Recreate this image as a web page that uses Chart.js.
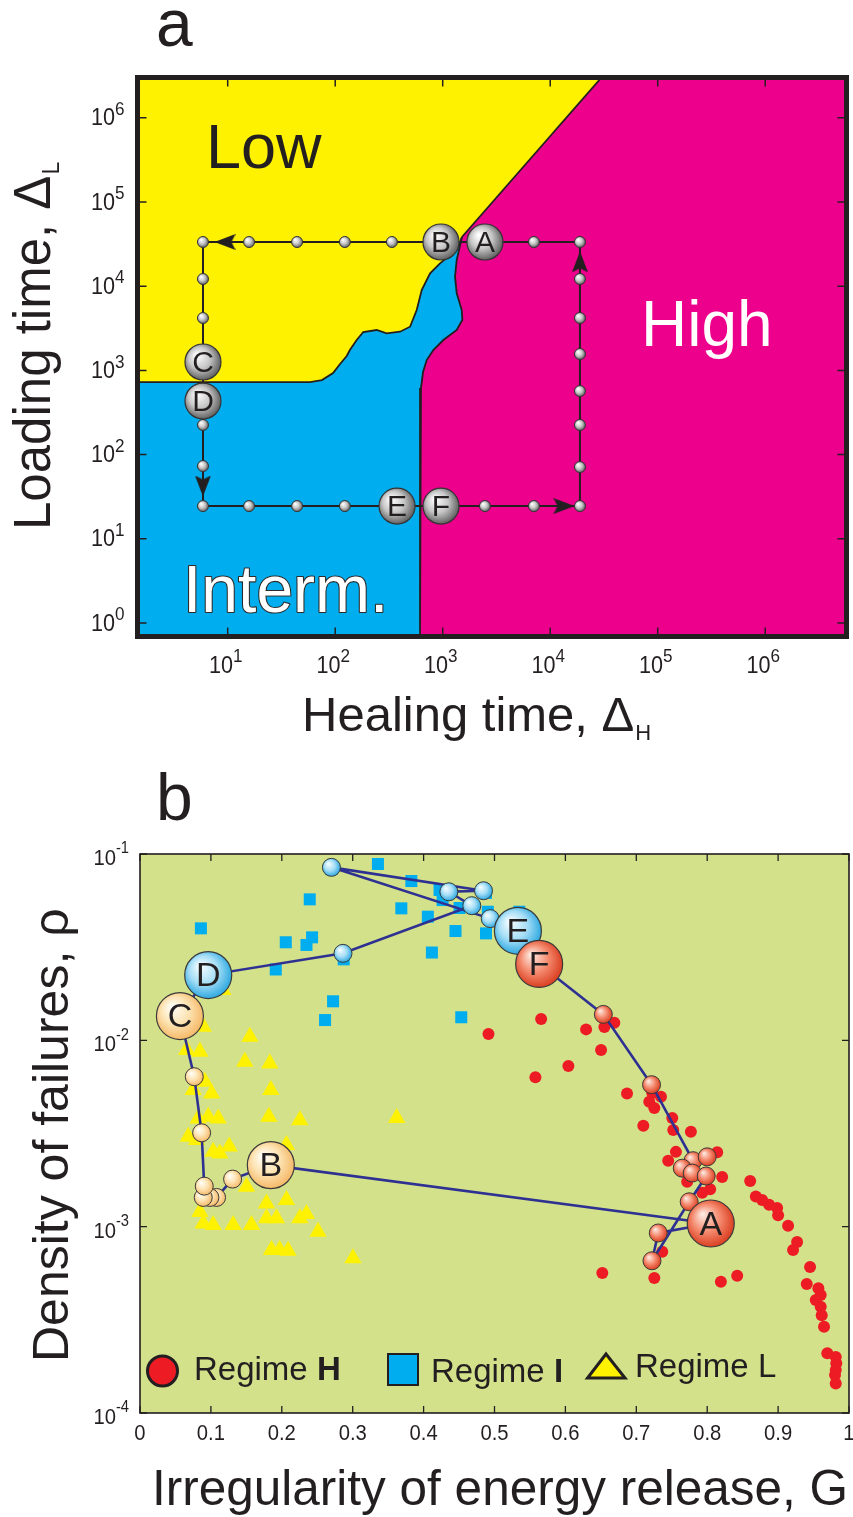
<!DOCTYPE html>
<html><head><meta charset="utf-8">
<script src="https://cdn.jsdelivr.net/npm/chart.js@4/dist/chart.umd.min.js"></script>
<style>
html,body{margin:0;padding:0;background:#fff;}
#wrap{position:relative;width:853px;height:1517px;overflow:hidden;background:#fff}
canvas{position:absolute;left:0}
#ca{top:0}
#cb{top:760px}
</style></head><body>
<div id="wrap"><canvas id="ca" width="853" height="760"></canvas><canvas id="cb" width="853" height="757"></canvas></div>
<script>
// ================= DATA: panel a =================
const healingTickExp = [1, 2, 3, 4, 5, 6];
const loadingTickExp = [0, 1, 2, 3, 4, 5, 6];
const healingRange = [1.449, 5.70e6];
const loadingRange = [0.692, 3.01e6];

// boundary Low / Interm. (healing, loading)
const lowIntH = [1.449, 58.3, 75.3, 95.5, 111, 128, 137, 158.5, 182.5, 243, 301, 401, 497, 573, 638, 763, 944, 1350, 1510];
const lowIntL = [728, 728, 769, 931, 1191, 1483, 1746, 2296, 2858, 3020, 2760, 2884, 3304, 5212, 9016, 14230, 18710, 26900, 38400];
// boundary Low / High
const lowHighH = [1510, 30000];
const lowHighL = [38400, 3.01e6];
// boundary Interm. / High
const intHighH = [1510, 1350, 1301, 1350, 1503, 1522, 1350, 1014, 818, 710, 656, 628, 615, 615];
const intHighL = [38400, 20470, 12970, 8222, 5212, 3970, 3020, 2296, 1746, 1329, 957, 618, 388, 0.692];

// loading/healing protocol path (closed cycle)
const pathH = [18900, 7060, 2470, 964, 337, 123, 44.2, 15.8, 5.89, 5.89, 5.89, 5.89, 5.89, 5.89, 5.89, 5.89,
               15.8, 44.2, 123, 376, 964, 2470, 7060, 18900, 18900, 18900, 18900, 18900, 18900, 18900];
const pathL = [33500, 33500, 33500, 33500, 33500, 33500, 33500, 33500, 33500, 12180, 4190, 1259, 433, 225, 73.2, 24.5,
               24.5, 24.5, 24.5, 24.5, 24.5, 24.5, 24.5, 24.5, 71.2, 225, 569, 1566, 4190, 12180];
const pathLabel = ['', '', 'A', 'B', '', '', '', '', '', '', '', 'C', 'D', '', '', '',
                   '', '', '', 'E', 'F', '', '', '', '', '', '', '', '', ''];
const arrowH = [9.44, 5.89, 13430, 18900];
const arrowL = [33500, 42.4, 24.5, 19500];

// ================= DATA: panel b =================
const gTicks = [0, 0.1, 0.2, 0.3, 0.4, 0.5, 0.6, 0.7, 0.8, 0.9, 1];
const gTickLabels = ['0', '0.1', '0.2', '0.3', '0.4', '0.5', '0.6', '0.7', '0.8', '0.9', '1'];
const rhoTickExp = [-1, -2, -3, -4];

const regimeH_G = [0.4915,0.5658,0.5577,0.6042,0.6292,0.655,0.669,0.6503,0.6869,0.7225,0.7348,0.7183,0.7254,0.7507,0.7099,0.7521,0.777,0.7559,0.745,0.8141,0.7718,0.8042,0.8211,0.793,0.8606,0.8686,0.8775,0.8873,0.8986,0.9,0.9141,0.9268,0.9211,0.7366,0.9451,0.6521,0.7254,0.8193,0.8423,0.9404,0.9568,0.9601,0.9531,0.9601,0.9615,0.9648,0.9694,0.9813,0.9821,0.9813,0.9803,0.9813];
const regimeH_rho = [1.08e-2,1.30e-2,6.33e-3,7.28e-3,1.145e-2,1.18e-2,1.243e-2,8.87e-3,5.19e-3,5.21e-3,4.98e-3,4.68e-3,4.33e-3,3.83e-3,3.48e-3,3.30e-3,3.23e-3,2.52e-3,2.26e-3,2.51e-3,1.74e-3,1.59e-3,1.85e-3,1.52e-3,1.76e-3,1.45e-3,1.39e-3,1.31e-3,1.26e-3,1.15e-3,1.01e-3,8.27e-4,7.49e-4,7.33e-4,6.07e-4,5.64e-4,5.30e-4,5.06e-4,5.45e-4,4.92e-4,4.67e-4,4.30e-4,4.04e-4,3.72e-4,3.35e-4,2.90e-4,2.09e-4,2.00e-4,1.85e-4,1.70e-4,1.60e-4,1.44e-4];

const regimeI_G = [0.3356,0.3827,0.4225,0.4268,0.2394,0.3686,0.406,0.0859,0.445,0.488,0.4906,0.535,0.2056,0.2427,0.2348,0.4117,0.1915,0.2873,0.2723,0.261,0.4531,0.488,0.4507,0.27];
const regimeI_rho = [8.84e-2,7.16e-2,6.41e-2,5.66e-2,5.71e-2,5.11e-2,4.61e-2,3.99e-2,3.86e-2,3.75e-2,4.9e-2,4.9e-2,3.36e-2,3.57e-2,3.25e-2,2.96e-2,2.40e-2,2.72e-2,1.62e-2,1.285e-2,1.33e-2,6.18e-2,5.13e-2,8.3e-2];

const regimeL_G = [0.0892,0.155,0.0658,0.0845,0.1479,0.1831,0.0751,0.101,0.0915,0.1845,0.1817,0.2254,0.0821,0.0962,0.1103,0.068,0.0799,0.1032,0.1127,0.1258,0.2066,0.1503,0.1785,0.2066,0.1925,0.1785,0.2254,0.2348,0.2511,0.0845,0.0892,0.1032,0.1314,0.1573,0.1855,0.197,0.2089,0.3004,0.362,0.117];
const regimeL_rho = [1.183e-2,1.045e-2,8.87e-3,8.69e-3,7.67e-3,7.52e-3,5.41e-3,5.19e-3,6.0e-3,5.41e-3,3.89e-3,3.73e-3,3.81e-3,3.89e-3,3.81e-3,3.04e-3,2.92e-3,2.52e-3,2.47e-3,2.69e-3,2.74e-3,1.64e-3,1.33e-3,1.39e-3,1.11e-3,1.11e-3,1.11e-3,1.17e-3,9.4e-4,1.20e-3,1.04e-3,1.02e-3,1.02e-3,1.02e-3,7.49e-4,7.5e-4,7.43e-4,6.76e-4,3.83e-3,1.86e-2];

const trajG = [0.805,0.1845,0.1306,0.108,0.0986,0.0892,0.0906,0.0869,0.0765,0.0563,0.0962,0.2863,0.468,0.4356,0.4845,0.270,0.494,0.533,0.563,0.6535,0.7215,0.780,0.800,0.7648,0.7789,0.7986,0.7746,0.7221,0.731];
const trajRho = [1.04e-3,2.14e-3,1.80e-3,1.435e-3,1.435e-3,1.435e-3,1.65e-3,3.19e-3,6.38e-3,1.35e-2,2.24e-2,2.93e-2,5.28e-2,6.27e-2,6.35e-2,8.48e-2,4.50e-2,3.87e-2,2.57e-2,1.378e-2,5.78e-3,2.26e-3,2.37e-3,2.06e-3,1.94e-3,1.87e-3,1.36e-3,6.56e-4,9.25e-4];
const trajLabel = ['A','B','','','','','','','','C','D','','','','','','','E','F','','','','','','','','','',''];
const trajRegime = ['H','L','L','L','L','L','L','L','L','L','I','I','I','I','I','I','I','I','H','H','H','H','H','H','H','H','H','H','H'];

// ================= helpers =================
const FONT = '"Liberation Sans", Arial, Helvetica, sans-serif';
const INK = '#231f20';
const zip = (xs, ys) => xs.map((x, i) => ({x, y: ys[i]}));

function txt(ctx, s, x, y, size, o = {}) {
  ctx.save();
  ctx.font = (o.bold ? 'bold ' : '') + size + 'px ' + FONT;
  ctx.fillStyle = o.color || INK;
  ctx.textAlign = o.align || 'left';
  ctx.textBaseline = o.baseline || 'alphabetic';
  ctx.translate(x, y);
  if (o.rot) ctx.rotate(o.rot);
  if (o.sx) ctx.scale(o.sx, 1);
  if (o.stroke) { ctx.lineWidth = o.strokeWidth || 2; ctx.strokeStyle = o.stroke; ctx.lineJoin = 'round'; ctx.strokeText(s, 0, 0); }
  ctx.fillText(s, 0, 0);
  const w = ctx.measureText(s).width * (o.sx || 1);
  ctx.restore();
  return w;
}
function measure(ctx, s, size, sx, bold) {
  ctx.save(); ctx.font = (bold ? 'bold ' : '') + size + 'px ' + FONT;
  const w = ctx.measureText(s).width * (sx || 1); ctx.restore(); return w;
}
function powLabel(ctx, exp, x, y, f10, fE, align, sx, dy) {
  const es = String(exp);
  const w10 = measure(ctx, '10', f10, sx), wE = measure(ctx, es, fE, sx);
  const x0 = align === 'right' ? x - w10 - wE : x - (w10 + wE) / 2;
  txt(ctx, '10', x0, y, f10, {baseline: 'middle', sx});
  txt(ctx, es, x0 + w10, y - dy, fE, {baseline: 'middle', sx});
}

const GRAD = {
  H: ['#fde7de', '#f4896d', '#dc4326'],
  I: ['#f4fcff', '#a6def6', '#36ace2'],
  L: ['#fffef7', '#fde3b2', '#f5bb6d'],
  G: ['#ffffff', '#c6c6c6', '#666666']
};
function sphereFill(keyOf, r) {
  return (c) => {
    const chart = c.chart, cols = GRAD[keyOf(c)];
    if (c.type !== 'data' || !chart.chartArea || !c.parsed) return cols[1];
    const px = chart.scales.x.getPixelForValue(c.parsed.x);
    const py = chart.scales.y.getPixelForValue(c.parsed.y);
    const g = chart.ctx.createRadialGradient(px - r * 0.35, py - r * 0.4, r * 0.05, px - r * 0.08, py - r * 0.08, r * 1.05);
    g.addColorStop(0, cols[0]); g.addColorStop(0.55, cols[1]); g.addColorStop(1, cols[2]);
    return g;
  };
}

const arrowImg = (() => {
  const c = document.createElement('canvas'); c.width = 16; c.height = 21;
  const g = c.getContext('2d'); g.fillStyle = INK;
  g.beginPath(); g.moveTo(8, 0); g.lineTo(16, 21); g.lineTo(8, 17); g.lineTo(0, 21); g.closePath(); g.fill();
  return c;
})();

const baseOpts = {
  responsive: false, maintainAspectRatio: false, animation: false, events: [], devicePixelRatio: 1,
  plugins: {legend: {display: false}, tooltip: {enabled: false}}
};

// ================= PANEL A =================
const yellowPoly = [{x: healingRange[0], y: loadingRange[1]}].concat(zip(lowIntH, lowIntL), [{x: lowHighH[1], y: lowHighL[1]}]);
const magentaPoly = [{x: lowHighH[1], y: lowHighL[1]}, {x: healingRange[1], y: loadingRange[1]}, {x: healingRange[1], y: loadingRange[0]}]
  .concat(zip(intHighH, intHighL).reverse());
const pathPts = zip(pathH, pathL).map((p, i) => ({...p, label: pathLabel[i]}));
const smallA = pathPts.filter(p => !p.label);
const bigA = pathPts.filter(p => p.label);
const loopA = pathPts.concat([pathPts[0]]);

const lineDS = (data, color, width, order) => ({type: 'line', data, borderColor: color, borderWidth: width, pointRadius: 0, fill: false, tension: 0, order});

const panelAPlugin = {
  id: 'panelA',
  beforeDatasetsDraw(chart) {
    const {ctx, chartArea: a} = chart;
    ctx.save(); ctx.fillStyle = '#00aeef'; ctx.fillRect(a.left, a.top, a.right - a.left, a.bottom - a.top); ctx.restore();
  },
  afterDatasetsDraw(chart) {
    const ctx = chart.ctx;
    txt(ctx, 'Low', 206, 168, 63);
    txt(ctx, 'High', 641, 346, 64, {color: '#ffffff'});
    txt(ctx, 'Interm.', 183, 612, 66, {color: '#ffffff', stroke: '#2b2b2b', strokeWidth: 2.2});
    const meta = chart.getDatasetMeta(chart.data.datasets.findIndex(d => d.id === 'bigA'));
    meta.data.forEach((el, i) => txt(ctx, bigA[i].label, el.x, el.y + 1.5, 30, {align: 'center', baseline: 'middle'}));
  },
  afterDraw(chart) {
    const {ctx, chartArea: a, scales} = chart;
    ctx.save();
    ctx.strokeStyle = INK; ctx.lineWidth = 1.5;
    ctx.beginPath();
    healingTickExp.forEach(e => {
      const px = scales.x.getPixelForValue(Math.pow(10, e));
      ctx.moveTo(px, a.bottom); ctx.lineTo(px, a.bottom - 9);
      ctx.moveTo(px, a.top); ctx.lineTo(px, a.top + 9);
    });
    loadingTickExp.forEach(e => {
      const py = scales.y.getPixelForValue(Math.pow(10, e));
      ctx.moveTo(a.left, py); ctx.lineTo(a.left + 9, py);
      ctx.moveTo(a.right, py); ctx.lineTo(a.right - 9, py);
    });
    ctx.stroke();
    ctx.lineWidth = 5;
    ctx.strokeRect(a.left, a.top, a.right - a.left, a.bottom - a.top);
    ctx.restore();
    healingTickExp.forEach(e => powLabel(ctx, e, scales.x.getPixelForValue(Math.pow(10, e)) - 2, a.bottom + 30, 24, 19, 'center', 0.9, 10));
    loadingTickExp.forEach(e => powLabel(ctx, e, a.left - 13, scales.y.getPixelForValue(Math.pow(10, e)) + 1, 24, 19, 'right', 0.9, 9));
    // axis titles
    let w = txt(ctx, 'Healing time, \u0394', 302, 731, 49);
    txt(ctx, 'H', 302 + w + 1, 740, 22);
    w = txt(ctx, 'Loading time, \u0394', 50, 530, 51, {rot: -Math.PI / 2});
    txt(ctx, 'L', 59, 530 - w - 1, 23, {rot: -Math.PI / 2});
    txt(ctx, 'a', 156, 46, 66);
  }
};

new Chart(document.getElementById('ca'), {
  type: 'scatter',
  data: {datasets: [
    {type: 'line', data: yellowPoly, backgroundColor: '#fff200', borderWidth: 0, pointRadius: 0, fill: 'shape', tension: 0, order: 30},
    {type: 'line', data: magentaPoly, backgroundColor: '#ec008c', borderWidth: 0, pointRadius: 0, fill: 'shape', tension: 0, order: 29},
    lineDS(zip(lowIntH, lowIntL), INK, 1.8, 20),
    lineDS(zip(lowHighH, lowHighL), INK, 1.8, 20),
    lineDS(zip(intHighH, intHighL), INK, 1.8, 20),
    lineDS(loopA, INK, 2, 10),
    {type: 'scatter', data: zip(arrowH, arrowL), pointStyle: arrowImg, pointRadius: 10, pointRotation: [270, 180, 90, 0], order: 9},
    {type: 'scatter', data: smallA, pointRadius: 5.5, pointBorderWidth: 1, pointBorderColor: '#333', pointBackgroundColor: sphereFill(() => 'G', 5.5), order: 5},
    {type: 'scatter', id: 'bigA', data: bigA, pointRadius: 18, pointBorderWidth: 1.2, pointBorderColor: '#333', pointBackgroundColor: sphereFill(() => 'G', 18), order: 4}
  ]},
  options: {...baseOpts,
    layout: {autoPadding: false, padding: {left: 137.5, top: 77.5, right: 6.5, bottom: 123.5}},
    scales: {
      x: {type: 'logarithmic', min: healingRange[0], max: healingRange[1], display: false},
      y: {type: 'logarithmic', min: loadingRange[0], max: loadingRange[1], display: false}
    }
  },
  plugins: [panelAPlugin]
});

// ================= PANEL B =================
const trajPts = trajG.map((g, i) => ({x: g, y: trajRho[i], label: trajLabel[i], regime: trajRegime[i]}));
const smallB = trajPts.filter(p => !p.label);
const bigB = trajPts.filter(p => p.label);
const loopB = trajPts.concat([trajPts[0]]);

const panelBPlugin = {
  id: 'panelB',
  beforeDatasetsDraw(chart) {
    const {ctx, chartArea: a} = chart;
    ctx.save(); ctx.fillStyle = '#d3e18b'; ctx.fillRect(a.left, a.top, a.right - a.left, a.bottom - a.top); ctx.restore();
  },
  afterDatasetsDraw(chart) {
    const ctx = chart.ctx;
    const meta = chart.getDatasetMeta(chart.data.datasets.findIndex(d => d.id === 'bigB'));
    meta.data.forEach((el, i) => txt(ctx, bigB[i].label, el.x, el.y + 2, 34, {align: 'center', baseline: 'middle'}));
    // legend
    ctx.save();
    ctx.lineWidth = 3; ctx.strokeStyle = INK;
    ctx.fillStyle = '#ed1c24'; ctx.beginPath(); ctx.arc(162.5, 611, 15, 0, Math.PI * 2); ctx.fill(); ctx.stroke();
    ctx.lineWidth = 2; ctx.fillStyle = '#00aeef'; ctx.fillRect(388, 594, 30, 31); ctx.strokeRect(388, 594, 30, 31);
    ctx.lineWidth = 3; ctx.lineJoin = 'miter'; ctx.fillStyle = '#fff200';
    ctx.beginPath(); ctx.moveTo(606, 594); ctx.lineTo(625, 618); ctx.lineTo(587.5, 618); ctx.closePath(); ctx.fill(); ctx.stroke();
    ctx.restore();
    let w = txt(ctx, 'Regime ', 194, 620, 33); txt(ctx, 'H', 194 + w, 620, 33, {bold: true});
    w = txt(ctx, 'Regime ', 431, 622, 33); txt(ctx, 'I', 431 + w, 622, 33, {bold: true});
    txt(ctx, 'Regime L', 635, 617, 33);
  },
  afterDraw(chart) {
    const {ctx, chartArea: a, scales} = chart;
    ctx.save();
    ctx.strokeStyle = INK; ctx.lineWidth = 1.3;
    ctx.beginPath();
    gTicks.forEach(v => {
      const px = scales.x.getPixelForValue(v);
      ctx.moveTo(px, a.bottom); ctx.lineTo(px, a.bottom - 7);
      ctx.moveTo(px, a.top); ctx.lineTo(px, a.top + 7);
    });
    rhoTickExp.forEach(e => {
      const py = scales.y.getPixelForValue(Math.pow(10, e));
      ctx.moveTo(a.left, py); ctx.lineTo(a.left + 7, py);
      ctx.moveTo(a.right, py); ctx.lineTo(a.right - 7, py);
    });
    ctx.stroke();
    ctx.lineWidth = 1.6;
    ctx.strokeRect(a.left, a.top, a.right - a.left, a.bottom - a.top);
    ctx.restore();
    gTicks.forEach((v, i) => txt(ctx, gTickLabels[i], scales.x.getPixelForValue(v), a.bottom + 21, 22, {align: 'center', baseline: 'middle', sx: 0.92}));
    rhoTickExp.forEach(e => powLabel(ctx, e, a.left - 11, scales.y.getPixelForValue(Math.pow(10, e)) + 5, 22, 16, 'right', 0.92, 10));
    txt(ctx, 'Irregularity of energy release, G', 152, 745, 49.5);
    txt(ctx, 'Density of failures, \u03c1', 68, 602, 50, {rot: -Math.PI / 2});
    txt(ctx, 'b', 156, 60, 66);
  }
};

new Chart(document.getElementById('cb'), {
  type: 'scatter',
  data: {datasets: [
    {data: zip(regimeL_G, regimeL_rho), pointStyle: 'triangle', pointRadius: 10, pointBackgroundColor: '#fff200', pointBorderWidth: 0, order: 30},
    {data: zip(regimeI_G, regimeI_rho), pointStyle: 'rect', pointRadius: 8.5, pointBackgroundColor: '#00aeef', pointBorderWidth: 0, order: 29},
    {data: zip(regimeH_G, regimeH_rho), pointStyle: 'circle', pointRadius: 6, pointBackgroundColor: '#ed1c24', pointBorderWidth: 0, order: 28},
    lineDS(loopB, '#2e3192', 2.6, 10),
    {data: smallB, pointRadius: 9, pointBorderWidth: 1, pointBorderColor: '#3a3a3a', pointBackgroundColor: sphereFill(c => c.raw.regime, 9), order: 5},
    {id: 'bigB', data: bigB, pointRadius: 23.5, pointBorderWidth: 1.2, pointBorderColor: '#3a3a3a', pointBackgroundColor: sphereFill(c => c.raw.regime, 23.5), order: 4}
  ]},
  options: {...baseOpts,
    layout: {autoPadding: false, padding: {left: 140, top: 94, right: 4, bottom: 104}},
    scales: {
      x: {type: 'linear', min: 0, max: 1, display: false},
      y: {type: 'logarithmic', min: 1e-4, max: 1e-1, display: false}
    }
  },
  plugins: [panelBPlugin]
});
</script>
</body></html>
